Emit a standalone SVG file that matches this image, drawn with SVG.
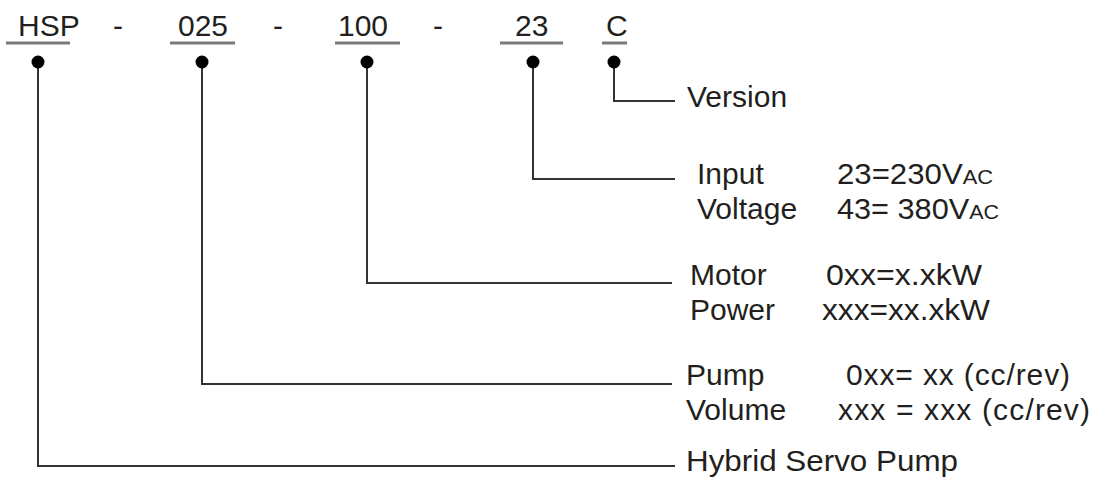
<svg xmlns="http://www.w3.org/2000/svg" width="1096" height="484" viewBox="0 0 1096 484">
<style>
text{font-family:"Liberation Sans",Arial,sans-serif;fill:#231f20;}
.code{font-size:30px;}
.lbl{font-size:30px;}
.sc{font-size:21px;}
.ul{stroke:#7a7a7a;stroke-width:3;fill:none;}
.con{stroke:#333;stroke-width:2;fill:none;}
.dot{fill:#000;}
</style>
<rect width="1096" height="484" fill="#fff"/>
<g id="code">
<text class="code" x="18" y="36">HSP</text>
<text class="code" x="113" y="36">-</text>
<text class="code" x="178" y="36">025</text>
<text class="code" x="273" y="36">-</text>
<text class="code" x="338" y="36">100</text>
<text class="code" x="433" y="36">-</text>
<text class="code" x="515" y="36">23</text>
<text class="code" x="606" y="36">C</text>
<line class="ul" x1="6" y1="43" x2="70" y2="43"/>
<line class="ul" x1="170" y1="43" x2="235" y2="43"/>
<line class="ul" x1="335" y1="43" x2="400" y2="43"/>
<line class="ul" x1="500" y1="43" x2="563" y2="43"/>
<line class="ul" x1="602" y1="43" x2="627" y2="43"/>
</g>
<g id="connectors">
<polyline class="con" points="614,62 614,101 675,101"/>
<polyline class="con" points="533,62 533,179 675,179"/>
<polyline class="con" points="367,62 367,283 672,283"/>
<polyline class="con" points="202,62 202,384 672,384"/>
<polyline class="con" points="38,62 38,466 675,466"/>
<circle class="dot" cx="38" cy="62" r="6.5"/>
<circle class="dot" cx="202" cy="62" r="6.5"/>
<circle class="dot" cx="367" cy="62" r="6.5"/>
<circle class="dot" cx="533" cy="62" r="6.5"/>
<circle class="dot" cx="614" cy="62" r="6.5"/>
</g>
<g id="version">
<text class="lbl" x="687" y="107">Version</text>
</g>
<g id="input-voltage">
<text class="lbl" x="697" y="184">Input</text>
<text class="lbl" x="697" y="219">Voltage</text>
<text class="lbl" x="837" y="184" textLength="156" lengthAdjust="spacingAndGlyphs">23=230V<tspan class="sc">AC</tspan></text>
<text class="lbl" x="837" y="219" textLength="162" lengthAdjust="spacingAndGlyphs">43= 380V<tspan class="sc">AC</tspan></text>
</g>
<g id="motor-power">
<text class="lbl" x="690" y="285">Motor</text>
<text class="lbl" x="690" y="320">Power</text>
<text class="lbl" x="826" y="285" textLength="156" lengthAdjust="spacingAndGlyphs">0xx=x.xkW</text>
<text class="lbl" x="822" y="320" textLength="168" lengthAdjust="spacingAndGlyphs">xxx=xx.xkW</text>
</g>
<g id="pump-volume">
<text class="lbl" x="686" y="385">Pump</text>
<text class="lbl" x="686" y="420">Volume</text>
<text class="lbl" x="846" y="385" textLength="224" lengthAdjust="spacing">0xx= xx (cc/rev)</text>
<text class="lbl" x="838" y="420" textLength="252" lengthAdjust="spacing">xxx = xxx (cc/rev)</text>
</g>
<g id="hybrid">
<text class="lbl" x="686" y="471" textLength="272" lengthAdjust="spacingAndGlyphs">Hybrid Servo Pump</text>
</g>
</svg>
